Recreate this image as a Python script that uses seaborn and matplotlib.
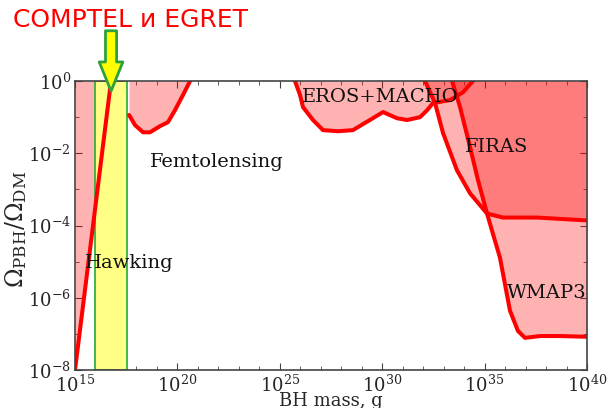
import matplotlib
matplotlib.use("Agg")
import numpy as np
import pandas as pd
import matplotlib.pyplot as plt
import seaborn as sns
from matplotlib.ticker import FixedLocator, FuncFormatter, NullFormatter

# Bounds on the primordial black hole fraction of dark matter.
# All values are log10(BH mass / g) and log10(Omega_PBH / Omega_DM).
hawking_logm = [15.0, 16.76]
hawking_logf = [-8.0, 0.0]

femto_logm = [17.64, 17.93, 18.32, 18.66, 19.15, 19.54, 19.88, 20.27, 20.62]
femto_logf = [-0.94, -1.22, -1.42, -1.42, -1.25, -1.14, -0.81, -0.39, 0.0]

eros_logm = [25.74, 25.99, 26.13, 26.62, 27.11, 27.84, 28.57, 29.31, 30.04,
             30.72, 31.21, 31.85, 32.19, 32.48, 33.31, 33.95, 34.43]
eros_logf = [0.0, -0.39, -0.72, -1.08, -1.36, -1.39, -1.36, -1.11, -0.86,
             -1.03, -1.08, -1.00, -0.81, -0.61, -0.53, -0.31, 0.0]

firas_logm = [32.09, 32.58, 32.97, 33.65, 34.29, 35.12, 35.90, 37.56, 40.0]
firas_logf = [0.0, -0.61, -1.44, -2.47, -3.11, -3.67, -3.78, -3.78, -3.86]

wmap_logm = [33.41, 33.80, 34.29, 34.68, 35.12, 35.36, 35.75, 36.24, 36.63,
             36.97, 37.71, 38.68, 40.0]
wmap_logf = [0.0, -0.72, -1.83, -2.75, -3.67, -4.14, -4.89, -6.36, -6.92,
             -7.11, -7.06, -7.06, -7.08]

# Mass window probed by COMPTEL and EGRET gamma-ray data
comptel_logm = [15.98, 17.54]

# Region labels: text, log10 mass, log10 fraction (baseline position)
labels = ["Femtolensing", "Hawking", "EROS+MACHO", "FIRAS", "WMAP3"]
label_logm = [18.66, 15.49, 26.06, 34.04, 36.09]
label_logf = [-2.39, -5.17, -0.58, -1.97, -6.00]

x_ticks_log = [15, 20, 25, 30, 35, 40]
y_ticks_log = [-8, -6, -4, -2, 0]


def p10(v):
    return np.power(10.0, np.asarray(v, dtype=float))


sns.set_style("ticks")
plt.rcParams["font.family"] = ["DejaVu Serif"]
plt.rcParams["mathtext.fontset"] = "dejavuserif"

fig = plt.figure(figsize=(6.07, 4.08), dpi=100)
ax = fig.add_axes([75 / 607, 1 - 370 / 408, 512 / 607, 289 / 408])
ax.set_xscale("log")
ax.set_yscale("log")

curves = [
    (hawking_logm, hawking_logf),
    (femto_logm, femto_logf),
    (eros_logm, eros_logf),
    (firas_logm, firas_logf),
    (wmap_logm, wmap_logf),
]

# Excluded regions (above each bound), translucent red so overlaps darken
for lm, lf in curves:
    ax.fill_between(p10(lm), p10(lf), 1.0, color="red", alpha=0.3, lw=0,
                    zorder=1)

# COMPTEL/EGRET band
ax.axvspan(p10(comptel_logm[0]), p10(comptel_logm[1]), facecolor="#ffff85",
           edgecolor="#35b044", lw=1.3, zorder=2)

# Bounding curves
for lm, lf in curves:
    df = pd.DataFrame({"mass": p10(lm), "frac": p10(lf)})
    sns.lineplot(data=df, x="mass", y="frac", sort=False, estimator=None,
                 color="red", lw=2.9, ax=ax, zorder=3, legend=False)

for txt, lm, lf in zip(labels, label_logm, label_logf):
    ax.text(p10(lm), p10(lf), txt, fontsize=14, color="#111111",
            ha="left", va="baseline", zorder=5, clip_on=True)

ax.set_xlim(float(p10(x_ticks_log[0])), float(p10(x_ticks_log[-1])))
ax.set_ylim(float(p10(y_ticks_log[0])), float(p10(y_ticks_log[-1])))

fmt = FuncFormatter(lambda v, p: r"$10^{%d}$" % round(np.log10(v)))
ax.xaxis.set_major_locator(FixedLocator(p10(x_ticks_log)))
ax.xaxis.set_minor_locator(FixedLocator(p10(np.arange(15, 41))))
ax.yaxis.set_major_locator(FixedLocator(p10(y_ticks_log)))
ax.yaxis.set_minor_locator(FixedLocator(p10(np.arange(-8, 1))))
ax.xaxis.set_major_formatter(fmt)
ax.yaxis.set_major_formatter(fmt)
ax.xaxis.set_minor_formatter(NullFormatter())
ax.yaxis.set_minor_formatter(NullFormatter())

ax.tick_params(which="both", direction="in", top=True, right=True,
               color="#444444", labelsize=13, pad=3)
ax.tick_params(which="major", length=5, width=0.8)
ax.tick_params(which="minor", length=3, width=0.6)
for s in ax.spines.values():
    s.set_color("#444444")
    s.set_linewidth(1.2)
    s.set_zorder(6)

ax.set_xlabel("BH mass, g", fontsize=13, labelpad=0)
ax.set_ylabel(r"$\Omega_{\rm PBH}/\Omega_{\rm DM}$", fontsize=17)
ax.xaxis.set_label_coords(0.5, -0.075)
ax.yaxis.set_label_coords(-0.09, 0.486)

# Title in the upper left, and an arrow pointing at the COMPTEL/EGRET window
fig.text(13 / 607, 1 - 27 / 408, "COMPTEL и EGRET", fontsize=18, color="red",
         family="DejaVu Sans", ha="left", va="baseline")
ax.annotate("", xy=(float(p10(16.76)), float(p10(-0.28))),
            xytext=(float(p10(16.76)), float(p10(1.39))),
            arrowprops=dict(arrowstyle="simple,head_length=1.05,head_width=0.85,tail_width=0.4",
                            mutation_scale=20, fc="#ffff00", ec="#2ea03c", lw=2.0,
                            shrinkA=0, shrinkB=0),
            annotation_clip=False, zorder=10)

fig.savefig("out.png", dpi=100)
